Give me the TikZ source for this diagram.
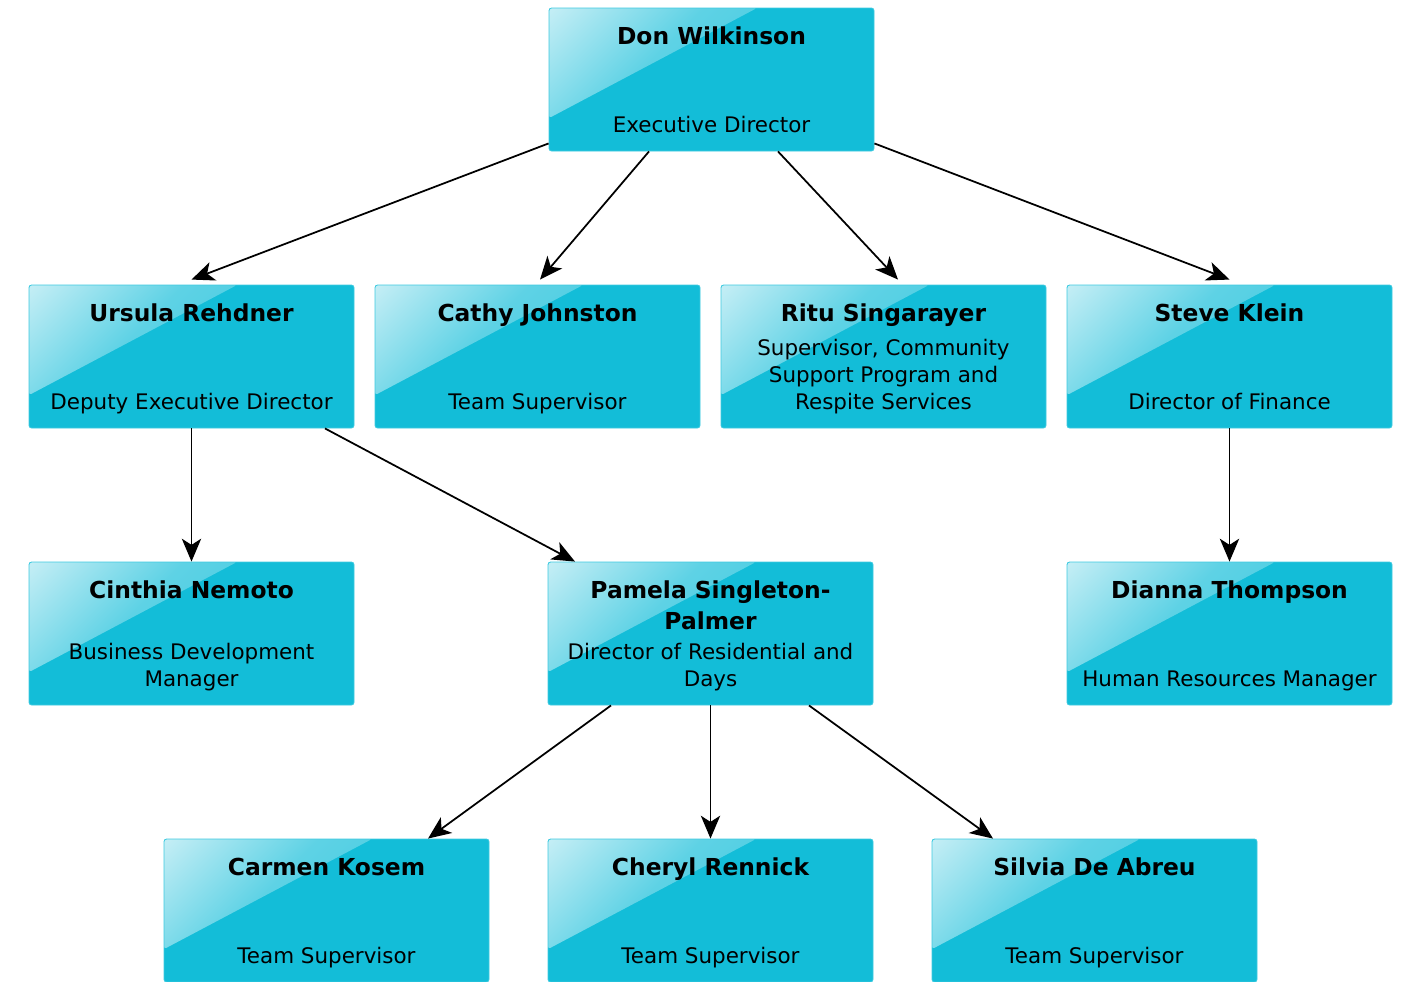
\documentclass[tikz,border=0pt]{standalone}
\usepackage{fontspec}
\setmainfont{DejaVu Sans}
\usetikzlibrary{arrows.meta,calc}
\definecolor{boxcyan}{HTML}{13BDD8}
\definecolor{boxedge}{HTML}{3ECAE0}
\definecolor{glosstop}{HTML}{D0F1F7}
\definecolor{glossmid}{HTML}{5ED2E5}
\definecolor{glossend}{HTML}{32C7DD}
\pgfdeclarehorizontalshading{gloss}{100bp}{color(0bp)=(glosstop); color(12bp)=(glosstop);
  color(38bp)=(glossmid); color(75bp)=(glossend); color(100bp)=(glossend)}
\newcommand{\card}[2]{\vbox to 2.86cm{\hsize=6.4cm\centering
  {\fontsize{13.3}{17.6}\selectfont\bfseries\rule{0pt}{21pt}#1\par}
  \vfill
  {\fontsize{12.2}{15.3}\selectfont #2\par}
  \kern\dimexpr10.5pt-\prevdepth\relax}}
\tikzset{card/.style={rectangle, fill=boxcyan, draw=boxedge, line width=0.5pt,
    rounded corners=1.5pt, inner sep=0pt, minimum width=6.5cm, minimum height=2.86cm,
    path picture={
      \shade[shading=gloss, shading angle=-45]
        (path picture bounding box.north west)
        -- ($(path picture bounding box.north west)!0.64!(path picture bounding box.north east)$)
        -- ($(path picture bounding box.north west)!0.77!(path picture bounding box.south west)$)
        -- cycle;}},
  link/.style={-{Stealth[length=13pt,width=11pt,inset=3.5pt]}, line width=1pt}}

\begin{document}
\begin{tikzpicture}
\useasboundingbox (0,0) rectangle (28.14,-19.62);
\node[card] (don) at (14.23,-1.59) {\card{Don Wilkinson}{Executive Director}};

\node[card] (ursula) at (3.83,-7.13) {\card{Ursula Rehdner}{Deputy Executive Director}};
\node[card] (cathy) at (10.75,-7.13) {\card{Cathy Johnston}{Team Supervisor}};
\node[card] (ritu) at (17.67,-7.13) {\card{Ritu Singarayer}{Supervisor, Community\\Support Program and\\Respite Services}};
\node[card] (steve) at (24.59,-7.13) {\card{Steve Klein}{Director of Finance}};

\node[card] (cinthia) at (3.83,-12.67) {\card{Cinthia Nemoto}{Business Development\\Manager}};
\node[card] (pamela) at (14.21,-12.67) {\card{Pamela Singleton-\\Palmer}{Director of Residential and\\Days}};
\node[card] (dianna) at (24.59,-12.67) {\card{Dianna Thompson}{Human Resources Manager}};

\node[card] (carmen) at (6.53,-18.21) {\card{Carmen Kosem}{Team Supervisor}};
\node[card] (cheryl) at (14.21,-18.21) {\card{Cheryl Rennick}{Team Supervisor}};
\node[card] (silvia) at (21.89,-18.21) {\card{Silvia De Abreu}{Team Supervisor}};

\draw[link] ($(don.south west)+(0,0.16)$) -- ([yshift=0.1cm]ursula.north);
\draw[link] ([xshift=-1.25cm]don.south) -- ([xshift=0.05cm,yshift=0.1cm]cathy.north);
\draw[link] ([xshift=1.33cm]don.south) -- ([xshift=0.29cm,yshift=0.1cm]ritu.north);
\draw[link] ($(don.south east)+(0,0.16)$) -- ([yshift=0.1cm]steve.north);
\draw[link] ([xshift=2.67cm]ursula.south) -- ([xshift=-2.71cm]pamela.north);
\foreach \a/\b in {ursula/cinthia,steve/dianna,pamela/cheryl}
\draw[link] (\a.south) -- (\b.north);
\draw[link] ([xshift=-1.99cm]pamela.south) -- ([xshift=2.03cm]carmen.north);
\draw[link] ([xshift=1.97cm]pamela.south) -- ([xshift=-2.03cm]silvia.north);
\end{tikzpicture}
\end{document}
